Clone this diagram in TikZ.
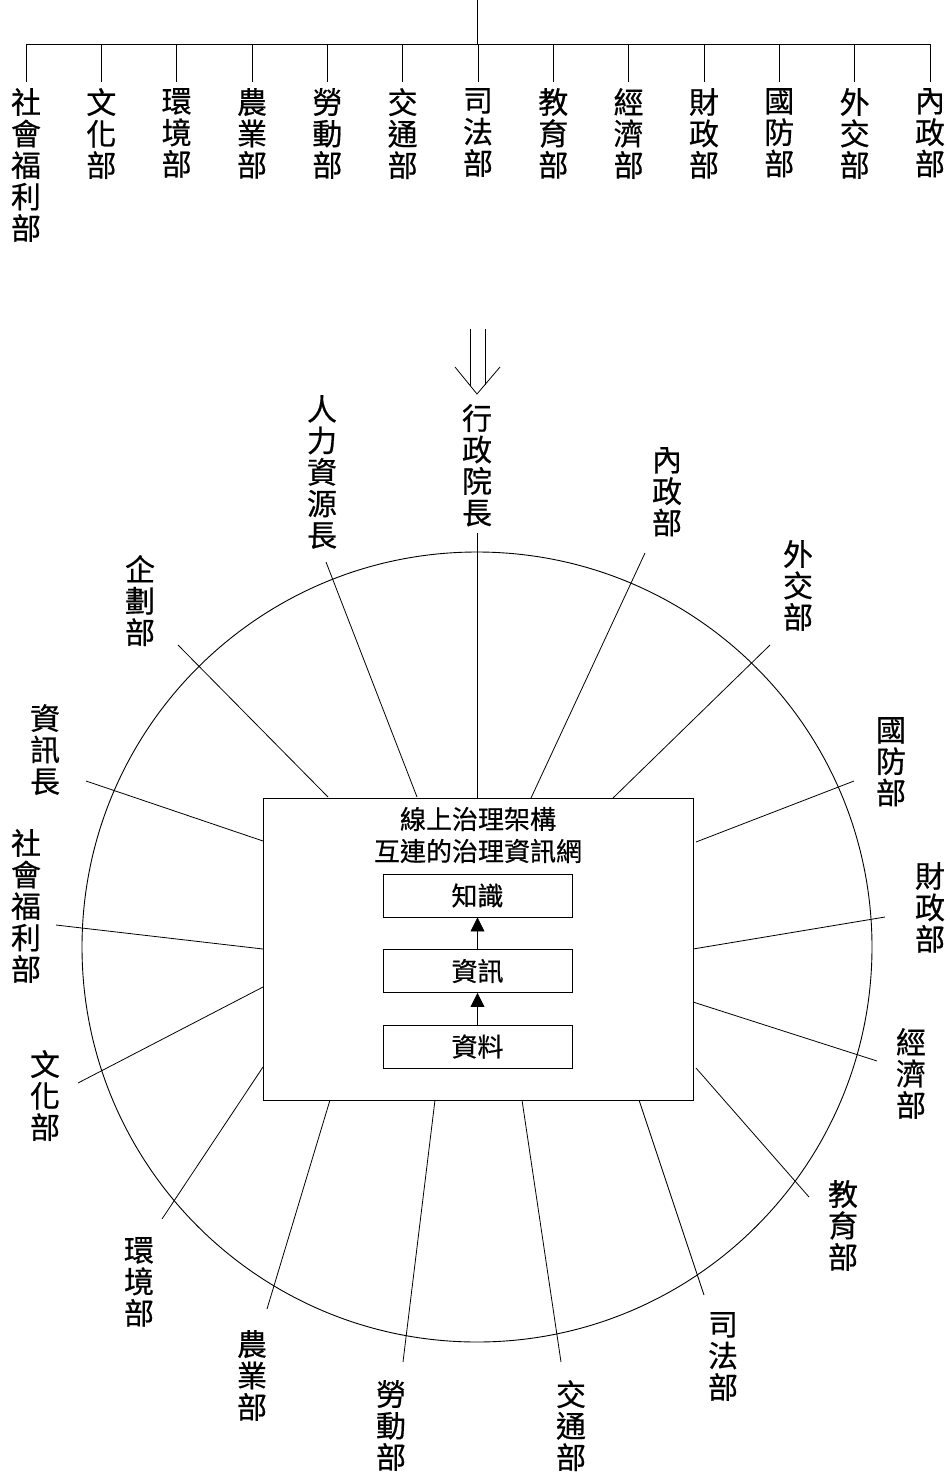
\documentclass[tikz,border=0pt]{standalone}
\usepackage{fontspec}
\newfontfamily\cjk[RawFeature={embolden=0.6}]{Noto Sans CJK TC}
\usetikzlibrary{arrows.meta}
\begin{document}
\begin{tikzpicture}[x=1pt,y=-1pt,
  vlabel/.style={font=\cjk\fontsize{30}{31.5}\selectfont, align=center, inner sep=0pt, anchor=north},
  boxtext/.style={font=\cjk\fontsize{26}{32}\selectfont, align=center, inner sep=0pt},
  thin/.style={line width=0.8pt, black},
  stage/.style={draw, line width=0.9pt, minimum width=189pt, minimum height=43pt, inner sep=0pt, font=\cjk\fontsize{26}{30}\selectfont},
  uparrow/.style={line width=0.8pt, -{Triangle[width=14pt,length=14pt]}}]
\useasboundingbox (0,0) rectangle (950,1475);

% ---------- top tree ----------
\coordinate (root) at (477,0);
\coordinate (rootbar) at (477,44);
\coordinate (barL) at (26,44);
\coordinate (barR) at (930,44);
\draw[thin] (root) -- (rootbar);
\draw[thin] (barL) -- (barR);
\foreach \i/\t in {0/社\\會\\福\\利\\部, 1/文\\化\\部, 2/環\\境\\部, 3/農\\業\\部, 4/勞\\動\\部, 5/交\\通\\部, 6/司\\法\\部, 7/教\\育\\部, 8/經\\濟\\部, 9/財\\政\\部, 10/國\\防\\部, 11/外\\交\\部, 12/內\\政\\部} {
  \pgfmathsetmacro{\xx}{26+75.33*\i}
  \coordinate (tb\i) at (\xx,44);
  \coordinate (te\i) at (\xx,82);
  \node[vlabel] (top\i) at (\xx,88) {\t};
  \draw[thin] (tb\i) -- (te\i);
}

% ---------- double arrow ----------
\coordinate (a1) at (470,329);
\coordinate (a2) at (470,385.5);
\coordinate (a3) at (485,329);
\coordinate (a4) at (485,384.5);
\coordinate (h1) at (455,367);
\coordinate (h2) at (477,394);
\coordinate (h3) at (500,367);
\draw[thin] (a1) -- (a2);
\draw[thin] (a3) -- (a4);
\draw[thin] (h1) -- (h2) -- (h3);

% ---------- circle ----------
\draw[line width=0.9pt] (477,947) circle[radius=395pt];

% ---------- central box ----------
\node[draw, line width=0.9pt, minimum width=430pt, minimum height=302pt, inner sep=0pt, fill=white] (box) at (478,949) {};
\node[boxtext] (title) at (478,835) {線上治理架構\\互連的治理資訊網};
\node[stage] (know) at (477.5,895.5) {知識};
\node[stage] (info) at (477.5,971) {資訊};
\node[stage] (data) at (477.5,1046.5) {資料};
\draw[uparrow] (data.north) -- (info.south);
\draw[uparrow] (info.north) -- (know.south);

% ---------- spokes and labels ----------
\foreach \n/\ox/\oy/\ix/\iy/\lx/\ly/\t in {
  a/326/562/417/797/322/395/人\\力\\資\\源\\長,
  b/477/533/477/798/477/404/行\\政\\院\\長,
  c/645/553/531/798/667/447/內\\政\\部,
  d/770/645/613/798/798/540/外\\交\\部,
  e/854/781/696/842/891/717/國\\防\\部,
  f/885/917/693/949/930/862/財\\政\\部,
  g/877/1061/693/1002/911/1028/經\\濟\\部,
  h/809/1197/696/1068/843/1180/教\\育\\部,
  i/704/1295/639/1100/723/1312/司\\法\\部,
  j/561/1362/522/1100/571/1380/交\\通\\部,
  k/403/1362/435/1100/391/1380/勞\\動\\部,
  l/267/1309/330/1100/252/1330/農\\業\\部,
  m/162/1219/263/1067/139/1237/環\\境\\部,
  n/78/1083/263/987/45/1050/文\\化\\部,
  o/56/925/263/949/26/829/社\\會\\福\\利\\部,
  p/86/781/263/841/45/704/資\\訊\\長,
  q/178/645/328/797/140/555/企\\劃\\部} {
  \coordinate (out\n) at (\ox,\oy);
  \coordinate (in\n) at (\ix,\iy);
  \node[vlabel] (lab\n) at (\lx,\ly) {\t};
  \draw[thin] (out\n) -- (in\n);
}
\end{tikzpicture}
\end{document}
